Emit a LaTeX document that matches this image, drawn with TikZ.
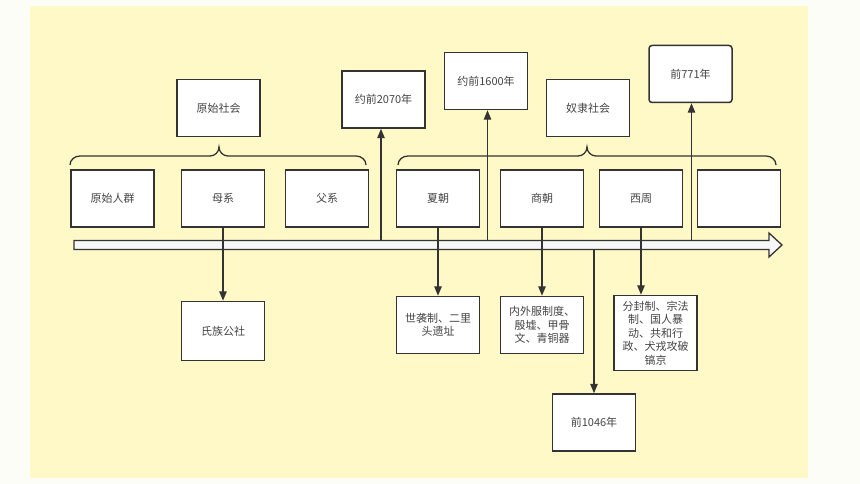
\documentclass[tikz,border=0pt]{standalone}
\usepackage{fontspec}
\setmainfont{Noto Sans CJK SC}
\usetikzlibrary{arrows.meta}
\definecolor{bgout}{RGB}{253,253,248}
\definecolor{bgyel}{RGB}{255,249,199}
\definecolor{linec}{RGB}{51,51,51}
\definecolor{textc}{RGB}{68,68,68}
\definecolor{arrowfill}{RGB}{246,246,246}
\begin{document}
\begin{tikzpicture}[x=1pt,y=-1pt,
  box/.style={draw=linec,fill=white,line width=1.5pt,minimum width=83pt,minimum height=57pt,inner sep=1pt,font=\fontsize{11}{13.4}\selectfont,text=textc,align=center},
  conn/.style={draw=linec,line width=1.3pt},
  arr/.style={conn,-{Triangle[width=7.5pt,length=9.5pt]}},
  bracepath/.style={draw=linec,line width=1.3pt},
  bigarrow/.style={draw=linec,fill=arrowfill,line width=1.3pt}]
\useasboundingbox (0,0) rectangle (860,484);
\fill[bgout] (0,0) rectangle (860,484);
\fill[bgyel] (30,6) rectangle (808,478);

% braces
\draw[bracepath] (70,165) to[out=90,in=180] (80,156) -- (210,156) to[out=0,in=-90] (219,147)
  to[out=-90,in=180] (228,156) -- (356,156) to[out=0,in=90] (366,165);
\draw[bracepath] (398,165) to[out=90,in=180] (408,156) -- (578,156) to[out=0,in=-90] (587,147)
  to[out=-90,in=180] (596,156) -- (766,156) to[out=0,in=90] (776,165);

% timeline arrow
\draw[bigarrow] (74,240.5) -- (769,240.5) -- (769,233) -- (782,245) -- (769,257) -- (769,249.5) -- (74,249.5) -- cycle;
\coordinate (s2070) at (381,240.5);
\coordinate (s1600) at (487.5,240.5);
\coordinate (s771) at (691.5,240.5);
\coordinate (s1046) at (594,249.5);

% top boxes
\node[box] (ys) at (218.5,108) {原始社会};
\node[box] (d2070) at (383.5,99.5) {约前2070年};
\node[box] (d1600) at (486,81) {约前1600年};
\node[box] (nl) at (588,108) {奴隶社会};
\node[box,rounded corners=3pt] (d771) at (690.5,74) {前771年};

% row boxes
\node[box] (yr) at (112.5,198.5) {原始人群};
\node[box] (mx) at (223,198.5) {母系};
\node[box] (fx) at (327,198.5) {父系};
\node[box] (xia) at (438,198.5) {夏朝};
\node[box] (shang) at (542,198.5) {商朝};
\node[box] (xz) at (641,198.5) {西周};
\node[box] (empty) at (739,198.5) {};

% bottom boxes
\node[box,minimum height=59pt] (szgs) at (223,331) {氏族公社};
\node[box] (xia2) at (438,325) {世袭制、二里\\头遗址};
\node[box] (shang2) at (542,325) {内外服制度、\\殷墟、甲骨\\文、青铜器};
\node[box,minimum height=75pt] (xz2) at (655.5,333) {分封制、宗法\\制、国人暴\\动、共和行\\政、犬戎攻破\\镐京};
\node[box] (d1046) at (594,422.5) {前1046年};

% connectors
\draw[arr] (s2070) -- (s2070 |- d2070.south);
\draw[arr] (s1600) -- (s1600 |- d1600.south);
\draw[arr] (s771) -- (s771 |- d771.south);
\draw[arr] (s1046) -- (d1046.north);
\draw[arr] (mx.south) -- (szgs.north);
\draw[arr] (xia.south) -- (xia2.north);
\draw[arr] (shang.south) -- (shang2.north);
\draw[arr] (xz.south) -- (xz.south |- xz2.north);
\end{tikzpicture}
\end{document}
